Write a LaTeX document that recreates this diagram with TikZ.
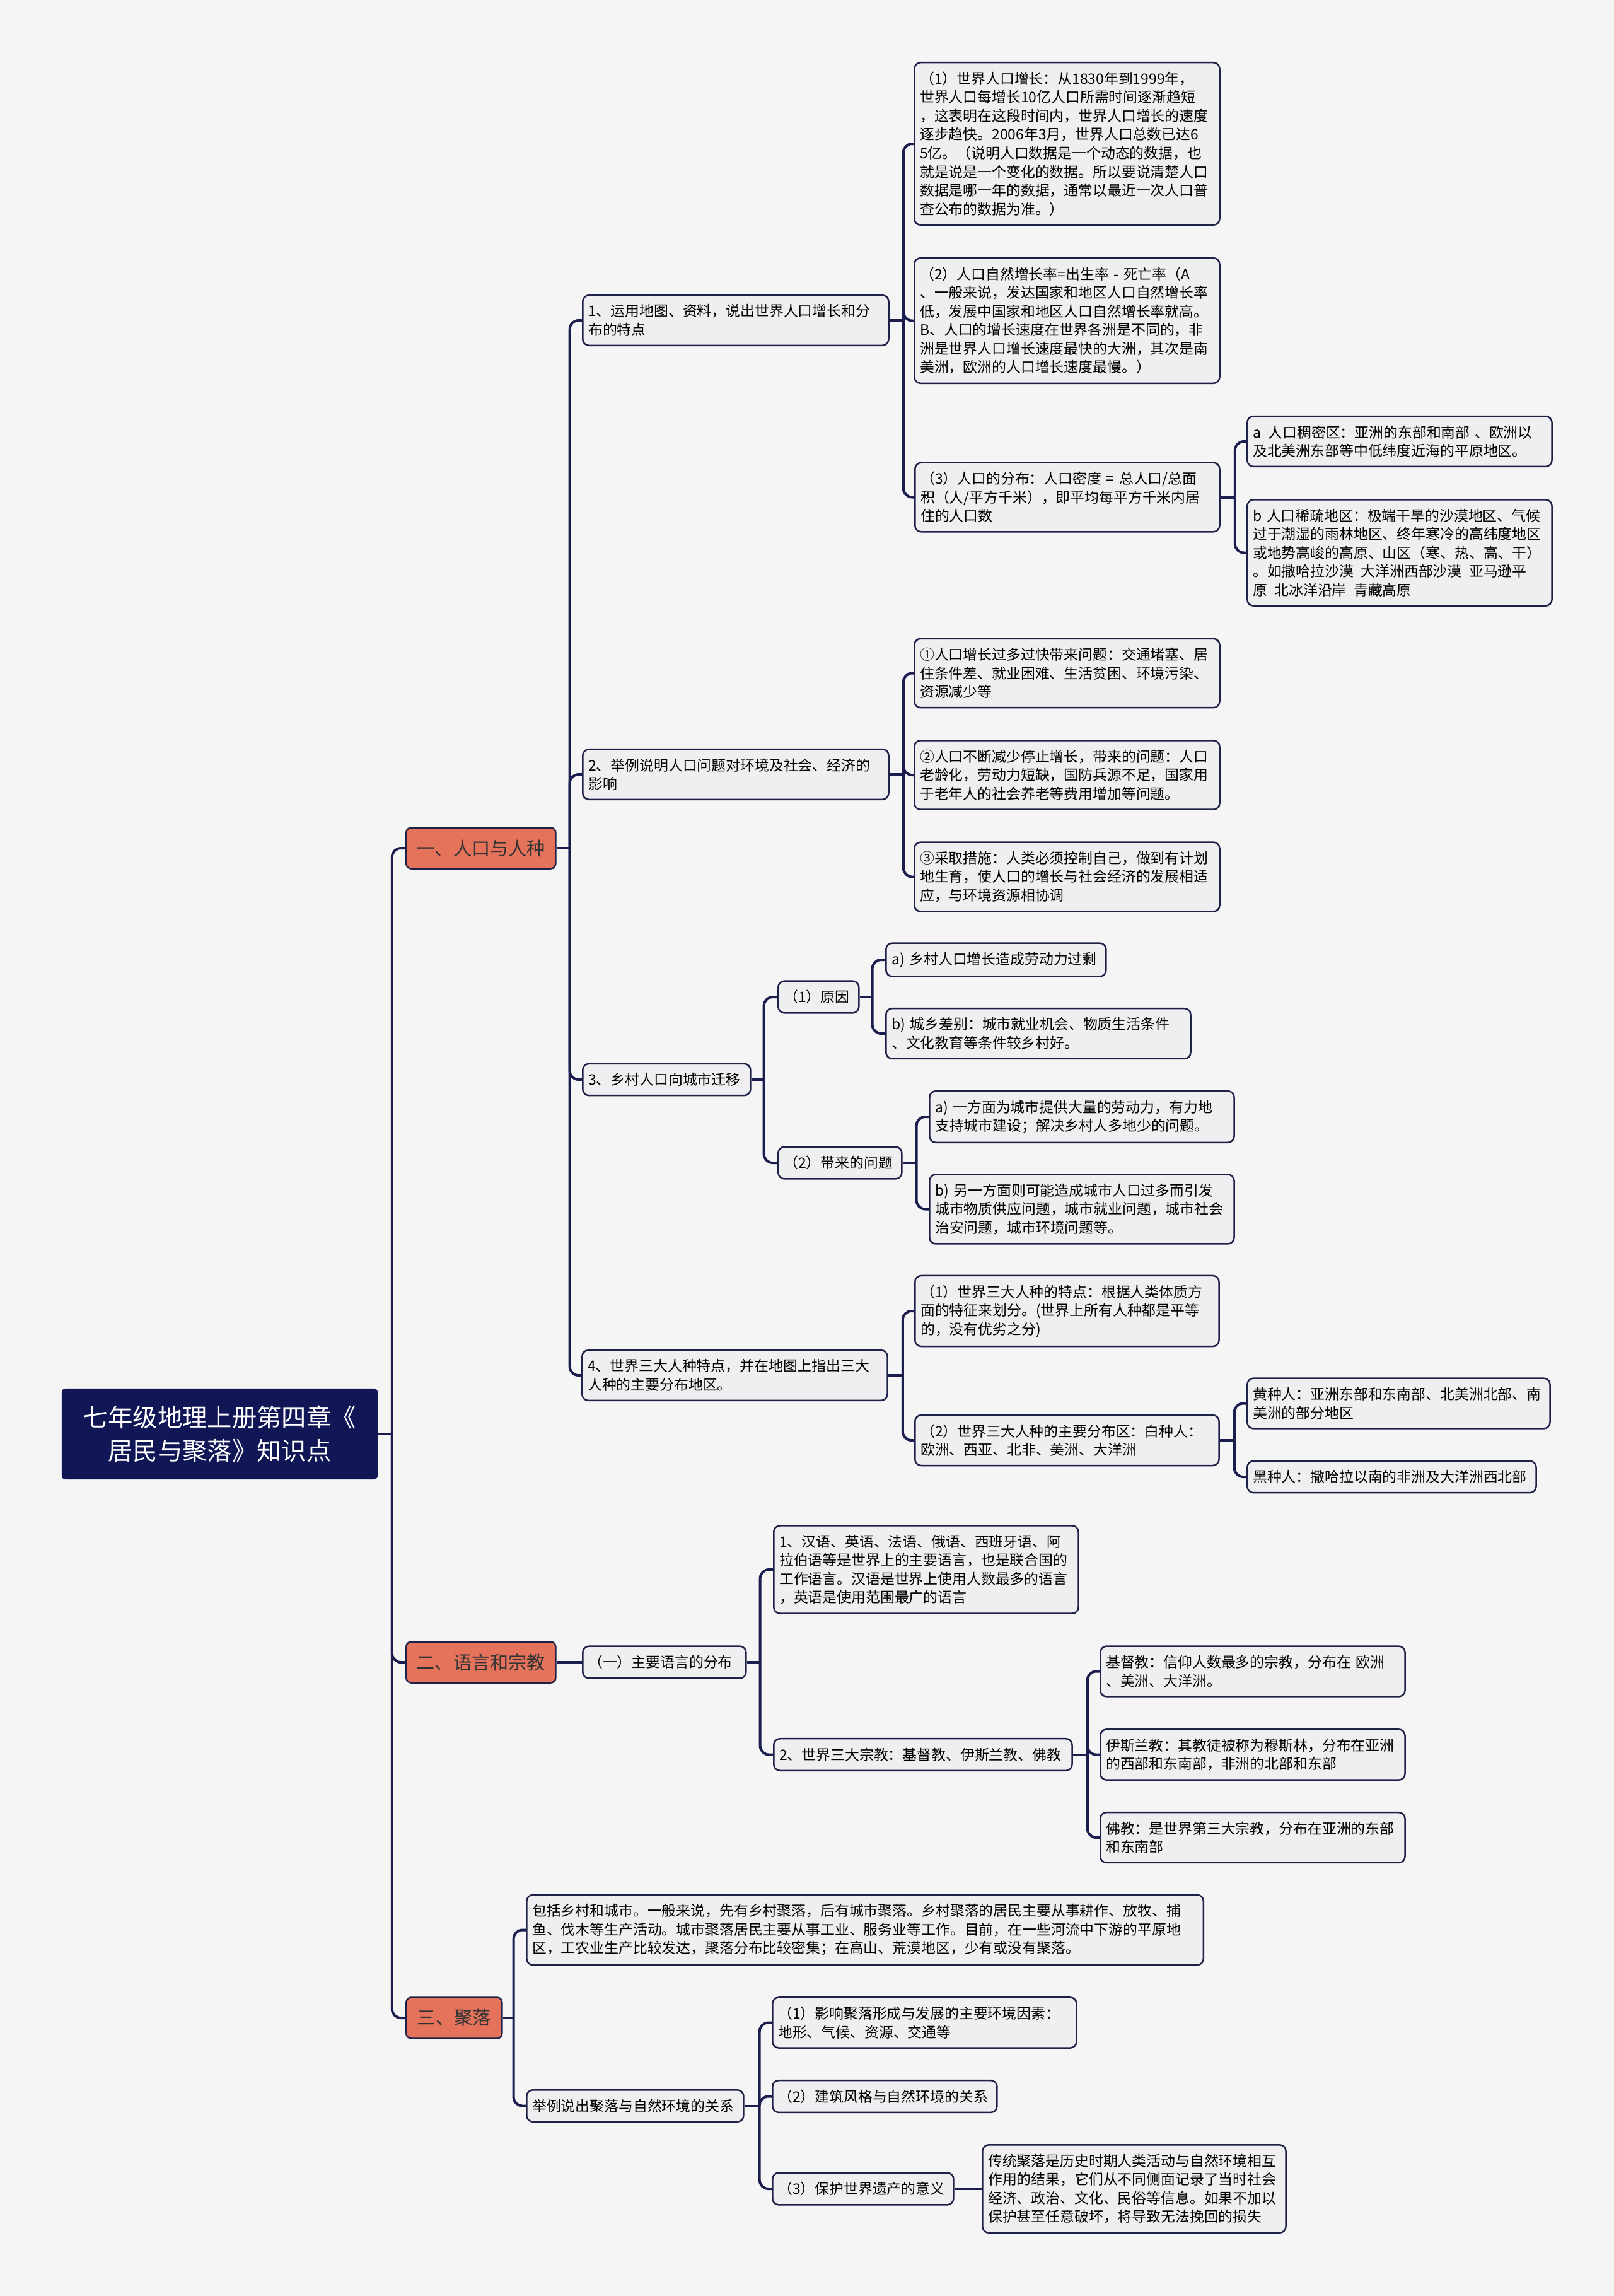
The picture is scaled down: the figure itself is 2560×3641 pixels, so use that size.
\documentclass[tikz,border=0pt]{standalone}
\usepackage{fontspec}
\setmainfont{Noto Sans CJK SC}

\definecolor{fond}{HTML}{F5F5F5}
\definecolor{boite}{HTML}{EFEFF2}
\definecolor{trait}{HTML}{1E2148}
\definecolor{lien}{HTML}{1A1D4D}
\definecolor{corail}{HTML}{E5735C}
\definecolor{marine}{HTML}{101656}

\newcommand{\leaffont}{\fontsize{6.5pt}{8.4pt}\selectfont}
\newcommand{\topicfont}{\fontsize{8.3pt}{10pt}\selectfont}
\newcommand{\rootfont}{\fontsize{11.2pt}{15pt}\selectfont}

\begin{document}
\begin{tikzpicture}[x=0.01cm, y=-0.01cm,
    leaf/.style={draw=trait, fill=boite, line width=0.025cm, rounded corners=0.1cm,
      anchor=west, align=left, inner xsep=0.09cm, inner ysep=0.145cm,
      text width=#1, font=\leaffont},
    leaf/.default=4.66cm,
    topic/.style={draw=trait, fill=corail, line width=0.025cm, rounded corners=0.08cm,
      anchor=west, align=center, minimum width=#1, minimum height=0.65cm,
      inner sep=0pt, text=black!80, font=\topicfont},
    rootbox/.style={fill=marine, rounded corners=0.06cm, minimum width=5.01cm,
      minimum height=1.44cm, align=center, text=white, font=\rootfont},
    link/.style={draw=lien, line width=0.04cm, rounded corners=0.14cm}]

  % Fond
  \fill[fond] (0,0) rectangle (2560,3641);
  \useasboundingbox (0,0) rectangle (2560,3641);

  % Racine et branches principales
  \node[rootbox] (root) at (348.5,2274) {七年级地理上册第四章《\\居民与聚落》知识点};
  \node[topic=2.37cm] (t1) at (643,1345) {一、人口与人种};
  \node[topic=2.37cm] (t2) at (643,2636) {二、语言和宗教};
  \node[topic=1.52cm] (t3) at (643,3200) {三、聚落};

  % Branche 1 : population
  \node[leaf=4.67cm] (n1) at (923,508) {1、运用地图、资料，说出世界人口增长和分\\布的特点};
  \node[leaf=4.67cm] (n2) at (923,1228) {2、举例说明人口问题对环境及社会、经济的\\影响};
  \node[leaf=2.48cm] (n3) at (923,1712) {3、乡村人口向城市迁移};
  \node[leaf] (n4) at (922,2181) {4、世界三大人种特点，并在地图上指出三大\\人种的主要分布地区。};

  \node[leaf] (n11) at (1449,228) {（1）世界人口增长：从1830年到1999年，\\世界人口每增长10亿人口所需时间逐渐趋短\\，这表明在这段时间内，世界人口增长的速度\\逐步趋快。2006年3月，世界人口总数已达6\\5亿。（说明人口数据是一个动态的数据，也\\就是说是一个变化的数据。所以要说清楚人口\\数据是哪一年的数据，通常以最近一次人口普\\查公布的数据为准。）};
  \node[leaf] (n12) at (1449,508.5) {（2）人口自然增长率=出生率 - 死亡率（A\\、一般来说，发达国家和地区人口自然增长率\\低，发展中国家和地区人口自然增长率就高。\\B、人口的增长速度在世界各洲是不同的，非\\洲是世界人口增长速度最快的大洲，其次是南\\美洲，欧洲的人口增长速度最慢。）};
  \node[leaf=4.65cm] (n13) at (1450,788.5) {（3）人口的分布：人口密度 = 总人口/总面\\积（人/平方千米），即平均每平方千米内居\\住的人口数};
  \node[leaf=4.65cm] (n131) at (1977,700) {a\enspace 人口稠密区：亚洲的东部和南部 、欧洲以\\及北美洲东部等中低纬度近海的平原地区。};
  \node[leaf=4.65cm] (n132) at (1977,876.5) {b 人口稀疏地区：极端干旱的沙漠地区、气候\\过于潮湿的雨林地区、终年寒冷的高纬度地区\\或地势高峻的高原、山区（寒、热、高、干）\\。如撒哈拉沙漠\enspace 大洋洲西部沙漠\enspace 亚马逊平\\原\enspace 北冰洋沿岸\enspace 青藏高原};

  \node[leaf] (n21) at (1449,1067.5) {①人口增长过多过快带来问题：交通堵塞、居\\住条件差、就业困难、生活贫困、环境污染、\\资源减少等};
  \node[leaf] (n22) at (1449,1229) {②人口不断减少停止增长，带来的问题：人口\\老龄化，劳动力短缺，国防兵源不足，国家用\\于老年人的社会养老等费用增加等问题。};
  \node[leaf] (n23) at (1449,1390.5) {③采取措施：人类必须控制自己，做到有计划\\地生育，使人口的增长与社会经济的发展相适\\应，与环境资源相协调};

  \node[leaf=1.10cm] (n31) at (1233,1581) {（1）原因};
  \node[leaf=1.78cm] (n32) at (1233,1844) {（2）带来的问题};
  \node[leaf=3.31cm] (n311) at (1404,1522) {a) 乡村人口增长造成劳动力过剩};
  \node[leaf=4.65cm] (n312) at (1404,1639) {b) 城乡差别：城市就业机会、物质生活条件\\、文化教育等条件较乡村好。};
  \node[leaf=4.65cm] (n321) at (1473,1771) {a) 一方面为城市提供大量的劳动力，有力地\\支持城市建设；解决乡村人多地少的问题。};
  \node[leaf=4.65cm] (n322) at (1473,1917.5) {b) 另一方面则可能造成城市人口过多而引发\\城市物质供应问题，城市就业问题，城市社会\\治安问题，城市环境问题等。};

  \node[leaf=4.64cm] (n41) at (1450,2079) {（1）世界三大人种的特点：根据人类体质方\\面的特征来划分。(世界上所有人种都是平等\\的，没有优劣之分)};
  \node[leaf=4.64cm] (n42) at (1450,2284) {（2）世界三大人种的主要分布区：白种人：\\欧洲、西亚、北非、美洲、大洋洲};
  \node[leaf=4.62cm] (n421) at (1977,2225.5) {黄种人：亚洲东部和东南部、北美洲北部、南\\美洲的部分地区};
  \node[leaf=4.40cm] (n422) at (1977,2342) {黑种人：撒哈拉以南的非洲及大洋洲西北部};

  % Branche 2 : langues et religions
  \node[leaf=2.41cm] (l1) at (923,2636) {（一）主要语言的分布};
  \node[leaf=4.65cm] (l11) at (1226,2489) {1、汉语、英语、法语、俄语、西班牙语、阿\\拉伯语等是世界上的主要语言，也是联合国的\\工作语言。汉语是世界上使用人数最多的语言\\，英语是使用范围最广的语言};
  \node[leaf=4.55cm] (l12) at (1226,2782.5) {2、世界三大宗教：基督教、伊斯兰教、佛教};
  \node[leaf=4.65cm] (l121) at (1744,2650.5) {基督教：信仰人数最多的宗教，分布在 欧洲\\、美洲、大洋洲。};
  \node[leaf=4.65cm] (l122) at (1744,2782.5) {伊斯兰教：其教徒被称为穆斯林，分布在亚洲\\的西部和东南部，非洲的北部和东部};
  \node[leaf=4.65cm] (l123) at (1744,2914) {佛教：是世界第三大宗教，分布在亚洲的东部\\和东南部};

  % Branche 3 : habitat
  \node[leaf=10.55cm] (s1) at (834,3060.5) {包括乡村和城市。一般来说，先有乡村聚落，后有城市聚落。乡村聚落的居民主要从事耕作、放牧、捕\\鱼、伐木等生产活动。城市聚落居民主要从事工业、服务业等工作。目前，在一些河流中下游的平原地\\区，工农业生产比较发达，聚落分布比较密集；在高山、荒漠地区，少有或没有聚落。};
  \node[leaf=3.26cm] (s2) at (834,3339.5) {举例说出聚落与自然环境的关系};
  \node[leaf=4.64cm] (s21) at (1224,3207.5) {（1）影响聚落形成与发展的主要环境因素：\\地形、气候、资源、交通等};
  \node[leaf=3.38cm] (s22) at (1224,3324.5) {（2）建筑风格与自然环境的关系};
  \node[leaf=2.69cm] (s23) at (1224,3471) {（3）保护世界遗产的意义};
  \node[leaf=4.63cm] (s231) at (1557,3471) {传统聚落是历史时期人类活动与自然环境相互\\作用的结果，它们从不同侧面记录了当时社会\\经济、政治、文化、民俗等信息。如果不加以\\保护甚至任意破坏，将导致无法挽回的损失};

  % Points de jonction
  \coordinate (j0) at ([xshift=0.22cm]root.east);
  \coordinate (j1) at ([xshift=0.21cm]t1.east);
  \coordinate (jn1) at ([xshift=0.22cm]n1.east);
  \coordinate (jn2) at ([xshift=0.22cm]n2.east);
  \coordinate (jn3) at ([xshift=0.2cm]n3.east);
  \coordinate (jn4) at ([xshift=0.23cm]n4.east);
  \coordinate (jn13) at ([xshift=0.23cm]n13.east);
  \coordinate (jn31) at ([xshift=0.2cm]n31.east);
  \coordinate (jn32) at ([xshift=0.22cm]n32.east);
  \coordinate (jn42) at ([xshift=0.23cm]n42.east);
  \coordinate (jl1) at ([xshift=0.21cm]l1.east);
  \coordinate (jl12) at ([xshift=0.23cm]l12.east);
  \coordinate (j3) at ([xshift=0.17cm]t3.east);
  \coordinate (js2) at ([xshift=0.24cm]s2.east);

  % Liens
  \draw[link] (root.east) -- (j0);
  \foreach \c in {t1,t2,t3} \draw[link] (j0) |- (\c.west);
  \draw[link] (t1.east) -- (j1);
  \foreach \c in {n1,n2,n3,n4} \draw[link] (j1) |- (\c.west);
  \draw[link] (n1.east) -- (jn1);
  \foreach \c in {n11,n12,n13} \draw[link] (jn1) |- (\c.west);
  \draw[link] (n13.east) -- (jn13);
  \foreach \c in {n131,n132} \draw[link] (jn13) |- (\c.west);
  \draw[link] (n2.east) -- (jn2);
  \foreach \c in {n21,n22,n23} \draw[link] (jn2) |- (\c.west);
  \draw[link] (n3.east) -- (jn3);
  \foreach \c in {n31,n32} \draw[link] (jn3) |- (\c.west);
  \draw[link] (n31.east) -- (jn31);
  \foreach \c in {n311,n312} \draw[link] (jn31) |- (\c.west);
  \draw[link] (n32.east) -- (jn32);
  \foreach \c in {n321,n322} \draw[link] (jn32) |- (\c.west);
  \draw[link] (n4.east) -- (jn4);
  \foreach \c in {n41,n42} \draw[link] (jn4) |- (\c.west);
  \draw[link] (n42.east) -- (jn42);
  \foreach \c in {n421,n422} \draw[link] (jn42) |- (\c.west);

  \draw[link] (t2.east) -- (l1.west);
  \draw[link] (l1.east) -- (jl1);
  \foreach \c in {l11,l12} \draw[link] (jl1) |- (\c.west);
  \draw[link] (l12.east) -- (jl12);
  \foreach \c in {l121,l122,l123} \draw[link] (jl12) |- (\c.west);

  \draw[link] (t3.east) -- (j3);
  \foreach \c in {s1,s2} \draw[link] (j3) |- (\c.west);
  \draw[link] (s2.east) -- (js2);
  \foreach \c in {s21,s22,s23} \draw[link] (js2) |- (\c.west);
  \draw[link] (s23.east) -- (s231.west);
\end{tikzpicture}
\end{document}
